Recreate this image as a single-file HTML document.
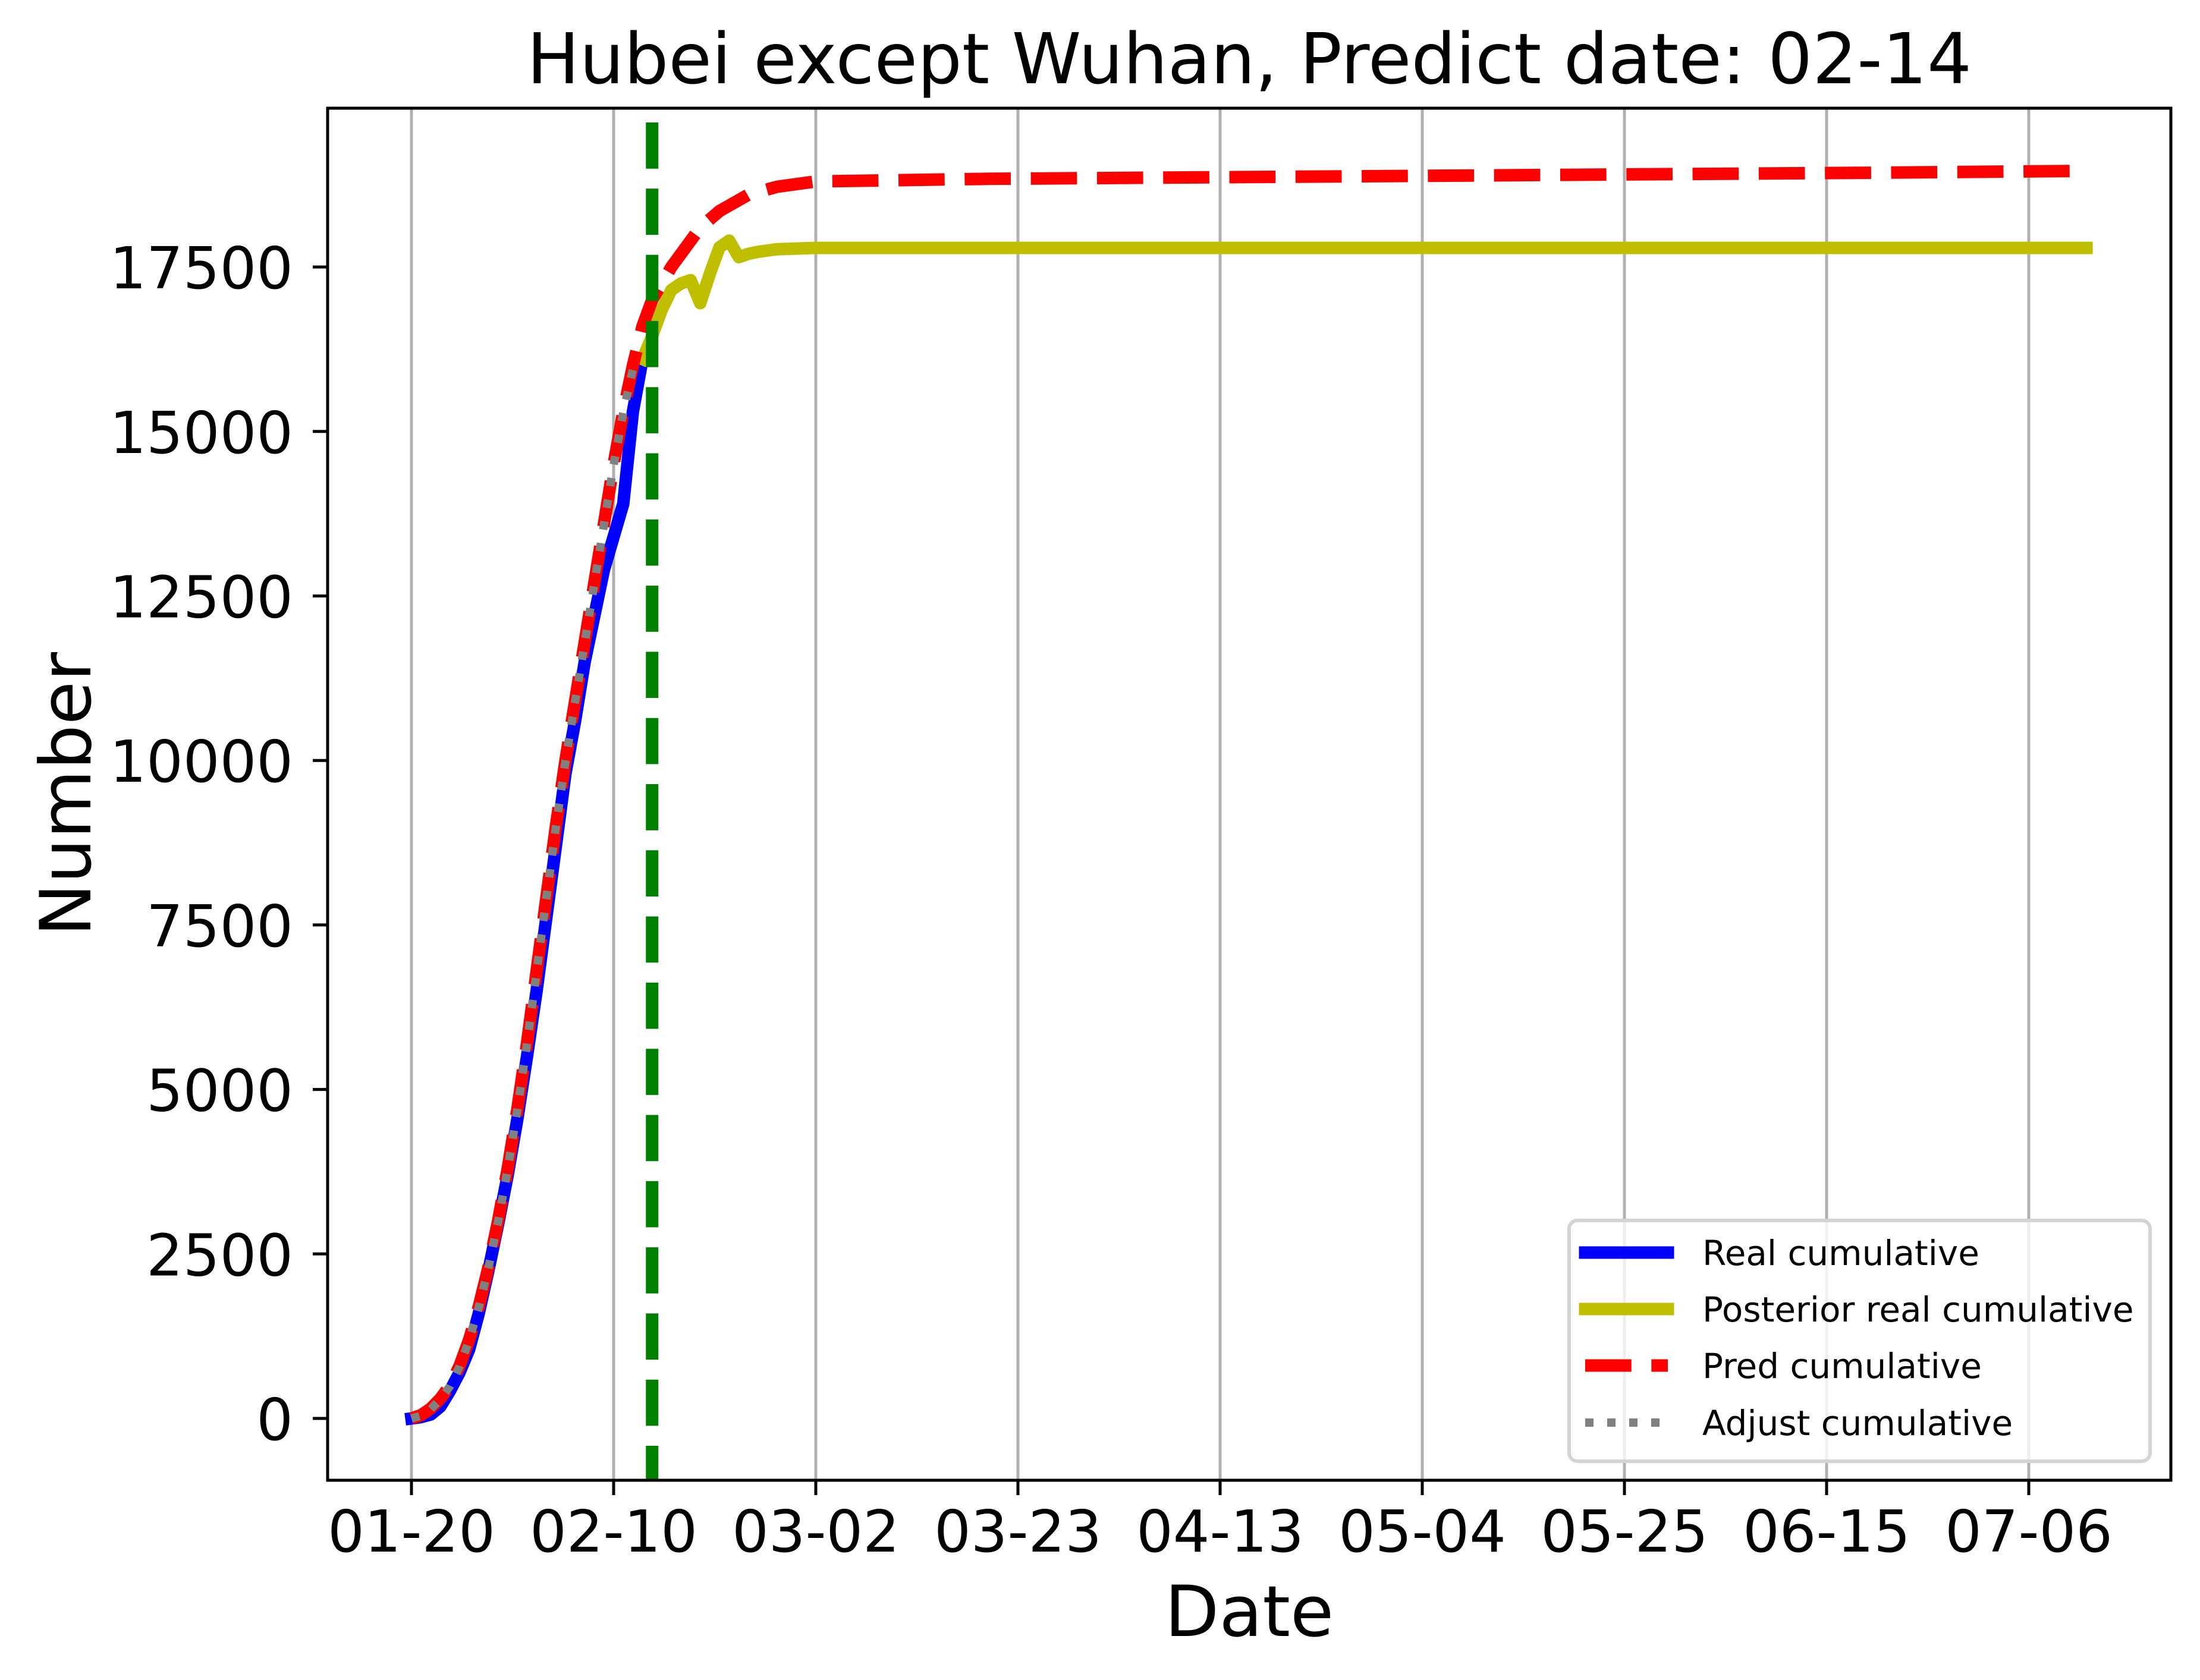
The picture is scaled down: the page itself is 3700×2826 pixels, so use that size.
<!DOCTYPE html>
<html><head><meta charset="utf-8"><style>
html,body{margin:0;padding:0;background:#fff;}
svg{display:block;font-family:"DejaVu Sans","Liberation Sans",sans-serif;}
</style></head>
<body>
<svg id="chart" width="3700" height="2826" viewBox="0 0 3700 2826" xmlns="http://www.w3.org/2000/svg">
<rect x="0" y="0" width="3700" height="2826" fill="#fff"/>
<text x="2101" y="140" font-size="118" text-anchor="middle">Hubei except Wuhan, Predict date: 02-14</text>
<text x="2101" y="2752" font-size="119" text-anchor="middle">Date</text>
<text transform="translate(152,1336) rotate(-90)" font-size="119" text-anchor="middle">Number</text>
<g id="grid"></g>
<g id="series"></g>
<g id="axes"></g>
<g id="legend"></g>
</svg>
<script>
// ---- data ----
const xTickDays = [0, 21, 42, 63, 84, 105, 126, 147, 168];
const xTickLabels = ["01-20","02-10","03-02","03-23","04-13","05-04","05-25","06-15","07-06"];
const yTickValues = [0, 2500, 5000, 7500, 10000, 12500, 15000, 17500];
const realDays = [0,1,2,3,4,5,6,7,8,9,10,11,12,13,14,15,16,17,18,19,20,21,22,23,24];
const realValues = [0,20,60,180,420,700,1050,1600,2250,2950,3700,4550,5500,6500,7600,8700,9800,10600,11500,12200,12900,13400,13900,15300,16100];
const postDays = [24,25,26,27,28,29,30,31,32,33,34,35,36,37,38,40,42,60,90,120,150,174];
const postValues = [16100,16450,16850,17150,17250,17300,16950,17400,17800,17900,17650,17700,17730,17750,17770,17780,17790,17790,17790,17790,17790,17790];
const predDays = [0,1,2,3,4,5,6,7,8,9,10,11,12,13,14,15,16,17,18,19,20,21,22,23,24,25,26,27,28,30,32,35,38,42,60,90,120,150,174];
const predValues = [0,50,150,300,500,800,1200,1700,2300,3000,3800,4700,5700,6800,7900,9000,10000,10900,11800,12700,13600,14500,15300,16000,16600,17000,17250,17500,17700,18100,18350,18600,18720,18800,18840,18870,18900,18930,18960];
const adjDays = [0,1,2,3,4,5,6,7,8,9,10,11,12,13,14,15,16,17,18,19,20,21,22,23];
const adjValues = [0,40,140,290,490,790,1190,1690,2290,2990,3790,4690,5690,6790,7890,8990,9990,10890,11790,12690,13590,14490,15290,15950];
const predictDay = 25;

// ---- scales ----
const X0 = 692, PX_PER_DAY = 340/21;
const Y0 = 2386, PX_PER_UNIT = 276.7/2500;
const AX_L = 551, AX_R = 3651, AX_T = 182, AX_B = 2490;
function xs(d){ return X0 + d*PX_PER_DAY; }
function ys(v){ return Y0 - v*PX_PER_UNIT; }
const NS = "http://www.w3.org/2000/svg";
function mk(tag, attrs, parent){ const e=document.createElementNS(NS,tag); for(const k in attrs) e.setAttribute(k, attrs[k]); parent.appendChild(e); return e; }

const grid = document.getElementById('grid');
const series = document.getElementById('series');
const axes = document.getElementById('axes');
const legend = document.getElementById('legend');

xTickDays.forEach((d,i)=>{
  const gl = mk('line',{x1:xs(d),x2:xs(d),y1:AX_T,y2:AX_B,stroke:'#b0b0b0','stroke-width':5},grid);
  
  
  const t = mk('line',{x1:xs(d),x2:xs(d),y1:AX_B,y2:AX_B+25,stroke:'#000','stroke-width':5},axes);
  
  
  const lb = mk('text',{x:xs(d),y:2610,'font-size':97,'text-anchor':'middle'},axes);
  lb.textContent = xTickLabels[i];
  
  
});
yTickValues.forEach(v=>{
  const t = mk('line',{x1:AX_L-25,x2:AX_L,y1:ys(v),y2:ys(v),stroke:'#000','stroke-width':5},axes);
  
  
  const lb = mk('text',{x:493,y:ys(v)+36,'font-size':97,'text-anchor':'end'},axes);
  lb.textContent = String(v);
  
  
});

function pts(days, vals){ return days.map((d,i)=>xs(d).toFixed(1)+','+ys(vals[i]).toFixed(1)).join(' '); }
const clip = mk('clipPath',{id:'plotclip'},document.getElementById('chart'));
mk('rect',{x:AX_L,y:AX_T,width:AX_R-AX_L,height:AX_B-AX_T},clip);
series.setAttribute('clip-path','url(#plotclip)');

const blue = mk('polyline',{points:pts(realDays,realValues),fill:'none',stroke:'#0000ff','stroke-width':21,'stroke-linejoin':'round','stroke-linecap':'square'},series);


const yel = mk('polyline',{points:pts(postDays,postValues),fill:'none',stroke:'#bfbf00','stroke-width':21,'stroke-linejoin':'round','stroke-linecap':'square'},series);


const red = mk('polyline',{points:pts(predDays,predValues),fill:'none',stroke:'#ff0000','stroke-width':21,'stroke-dasharray':'77.7 33.6','stroke-linejoin':'round'},series);


const gray = mk('polyline',{points:pts(adjDays,adjValues),fill:'none',stroke:'#808080','stroke-width':14,'stroke-dasharray':'14 23','stroke-linejoin':'round'},series);


const green = mk('line',{x1:xs(predictDay),x2:xs(predictDay),y1:AX_T+24,y2:AX_B,stroke:'#008000','stroke-width':21,'stroke-dasharray':'77.7 33.6'},series);



const frame = mk('rect',{x:AX_L,y:AX_T,width:AX_R-AX_L,height:AX_B-AX_T,fill:'none',stroke:'#000','stroke-width':5},axes);



const lbox = mk('rect',{x:2639,y:2053,width:977,height:405,rx:14,fill:'#fff','fill-opacity':0.8,stroke:'#d4d4d4','stroke-width':6},legend);


const entries = [
  {label:'Real cumulative', color:'#0000ff', w:21, dash:null, cap:'square', name:'legend-real'},
  {label:'Posterior real cumulative', color:'#bfbf00', w:21, dash:null, cap:'square', name:'legend-posterior'},
  {label:'Pred cumulative', color:'#ff0000', w:21, dash:'77.7 33.6', cap:'butt', name:'legend-pred'},
  {label:'Adjust cumulative', color:'#808080', w:14, dash:'14 23', cap:'butt', name:'legend-adjust'}
];
const legendY = [2107, 2202, 2297, 2393];
entries.forEach((e,i)=>{
  const g = mk('g',{},legend);
  
  
  const a = {x1:2666,x2:2805,y1:legendY[i],y2:legendY[i],stroke:e.color,'stroke-width':e.w,'stroke-linecap':e.cap};
  if(e.dash) a['stroke-dasharray']=e.dash;
  mk('line',a,g);
  const t = mk('text',{x:2863,y:legendY[i]+21,'font-size':58},g);
  t.textContent = e.label;
});
</script>
</body></html>
